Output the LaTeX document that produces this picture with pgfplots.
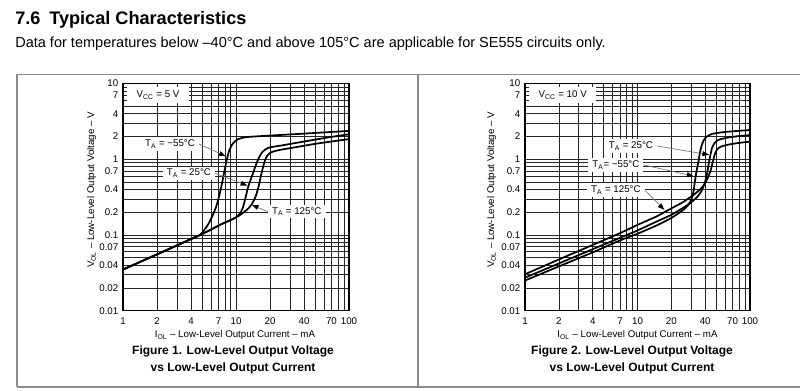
\documentclass[border=0pt]{standalone}
\usepackage{fontspec}
\setmainfont{Liberation Sans}
\usepackage{pgfplots}
\pgfplotsset{compat=1.18}
\usetikzlibrary{arrows.meta}
\tikzset{
  lab/.style={fill=white, inner xsep=3pt, inner ysep=2pt, font=\fontsize{7.3}{8}\selectfont},
  arr/.style={black!55, line width=0.5pt, -{Triangle[length=5pt,width=3.6pt,color=black]}},
  crv/.style={black, line width=1.3pt, smooth, tension=0.35},
}
\begin{document}
\begin{tikzpicture}
\useasboundingbox (0,0) rectangle (600pt,292.5pt);
% ---------- Figure 1 ----------
\begin{axis}[
    scale only axis, width=169.5pt, height=170.3pt,
    at={(92.25pt,59.475pt)}, anchor=south west,
    xmode=log, ymode=log,
    xmin=1, xmax=100, ymin=0.01, ymax=10,
    xtick={1,2,4,7,10,20,40,70,100},
    xticklabels={1,2,4,7,10,20,40,70,100},
    minor xtick={3,5,6,8,9,30,50,60,80,90},
    ytick={0.01,0.02,0.04,0.07,0.1,0.2,0.4,0.7,1,2,4,7,10},
    yticklabels={0.01,0.02,0.04,0.07,0.1,0.2,0.4,0.7,1,2,4,7,10},
    minor ytick={0.03,0.05,0.06,0.08,0.09,0.3,0.5,0.6,0.8,0.9,3,5,6,8,9},
    grid=both,
    major grid style={black!85, line width=0.5pt},
    minor grid style={black!85, line width=0.5pt},
    major tick length=0pt, minor tick length=0pt,
    tick label style={font=\fontsize{7.3}{8}\selectfont},
    xticklabel style={yshift=-1.5pt},
    axis line style={black, line width=0.8pt},
]
\addplot[crv] coordinates {(1,0.035) (2,0.0555) (3,0.0728) (4,0.0885) (4.8,0.1) (5.2,0.115) (5.7,0.14) (6.2,0.18) (6.7,0.24) (7.1,0.33) (7.5,0.47) (7.9,0.7) (8.3,1.0) (8.7,1.3) (9.2,1.55) (9.8,1.73) (10.5,1.85) (11.5,1.93) (13,1.98) (20,2.06) (35,2.16) (50,2.23) (70,2.3) (100,2.37)};
\addplot[crv] coordinates {(1,0.035) (2,0.0555) (3,0.0728) (4,0.0885) (4.8,0.1) (6,0.118) (7.5,0.14) (9,0.158) (10,0.172) (10.8,0.19) (11.5,0.23) (12.2,0.32) (12.8,0.43) (14,0.63) (15.2,0.89) (16.2,1.1) (17.2,1.26) (18.5,1.37) (20,1.44) (25,1.52) (35,1.66) (50,1.82) (70,1.98) (100,2.14)};
\addplot[crv] coordinates {(1,0.035) (2,0.0555) (3,0.0728) (4,0.0885) (4.8,0.1) (6,0.118) (7.5,0.14) (9,0.158) (10,0.17) (11,0.186) (12,0.205) (13,0.228) (14,0.265) (15,0.33) (15.8,0.43) (16.6,0.6) (17.4,0.8) (18.1,0.98) (18.8,1.1) (19.8,1.2) (21.4,1.27) (25,1.34) (35,1.46) (50,1.6) (70,1.72) (100,1.85)};
\node[lab, anchor=west, inner xsep=7pt, inner ysep=2.8pt] at (rel axis cs:0.018,0.95) {V\textsubscript{CC} = 5 V};
\node[lab] (a1) at (rel axis cs:0.208,0.734) {T\textsubscript{A} = −55°C};
\draw[arr] (a1.east) -- (axis cs:8.1,1.1);
\node[lab] (a2) at (rel axis cs:0.292,0.605) {T\textsubscript{A} = 25°C};
\draw[arr] (a2.east) -- (axis cs:12.6,0.45);
\node[lab] (a3) at (rel axis cs:0.769,0.436) {T\textsubscript{A} = 125°C};
\draw[arr] (a3.west) -- (axis cs:13.8,0.25);
\end{axis}
% ---------- Figure 2 ----------
\begin{axis}[
    scale only axis, width=168.75pt, height=170.3pt,
    at={(393.75pt,59.475pt)}, anchor=south west,
    xmode=log, ymode=log,
    xmin=1, xmax=100, ymin=0.01, ymax=10,
    xtick={1,2,4,7,10,20,40,70,100},
    xticklabels={1,2,4,7,10,20,40,70,100},
    minor xtick={3,5,6,8,9,30,50,60,80,90},
    ytick={0.01,0.02,0.04,0.07,0.1,0.2,0.4,0.7,1,2,4,7,10},
    yticklabels={0.01,0.02,0.04,0.07,0.1,0.2,0.4,0.7,1,2,4,7,10},
    minor ytick={0.03,0.05,0.06,0.08,0.09,0.3,0.5,0.6,0.8,0.9,3,5,6,8,9},
    grid=both,
    major grid style={black!85, line width=0.5pt},
    minor grid style={black!85, line width=0.5pt},
    major tick length=0pt, minor tick length=0pt,
    tick label style={font=\fontsize{7.3}{8}\selectfont},
    xticklabel style={yshift=-1.5pt},
    axis line style={black, line width=0.8pt},
]
\addplot[crv] coordinates {(1,0.025) (2,0.0385) (4,0.059) (7,0.085) (10,0.104) (15,0.135) (20,0.168) (25,0.21) (28,0.245) (30,0.29) (31.3,0.36) (32.3,0.5) (33.5,0.7) (34.8,0.93) (35.8,1.2) (36.8,1.45) (38.3,1.72) (40.5,1.95) (46,2.17) (60,2.3) (80,2.38) (100,2.44)};
\addplot[crv] coordinates {(1,0.0273) (2,0.0421) (4,0.065) (7,0.092) (10,0.115) (15,0.152) (20,0.185) (25,0.225) (30,0.27) (34,0.32) (37,0.38) (39.5,0.48) (41.5,0.65) (43,0.88) (44.5,1.15) (46,1.42) (48.5,1.65) (53,1.82) (65,1.95) (80,2.03) (100,2.09)};
\addplot[crv] coordinates {(1,0.0303) (2,0.0475) (4,0.074) (7,0.106) (10,0.136) (15,0.178) (20,0.225) (25,0.268) (28,0.3) (32,0.345) (36,0.4) (39.5,0.47) (42,0.56) (44.5,0.7) (46.5,0.9) (48.5,1.15) (51,1.35) (55,1.47) (65,1.57) (80,1.65) (100,1.71)};
\node[lab, anchor=west, inner xsep=7pt, inner ysep=2.8pt] at (rel axis cs:0.018,0.95) {V\textsubscript{CC} = 10 V};
\node[lab] (b1) at (rel axis cs:0.471,0.725) {T\textsubscript{A} = 25°C};
\draw[arr] (b1.east) -- (axis cs:43.3,1.15);
\node[lab] (b2) at (rel axis cs:0.404,0.642) {T\textsubscript{A}= −55°C};
\draw[arr] (b2.east) -- (axis cs:31.5,0.6);
\node[lab] (b3) at (rel axis cs:0.404,0.531) {T\textsubscript{A} = 125°C};
\draw[arr] (b3.east) -- (axis cs:17.3,0.215);
\end{axis}
% ---------- page text and frame ----------
\begin{scope}[x=0.75pt, y=-0.75pt, yshift=292.5pt]
\node[anchor=base west, inner sep=0pt, font=\bfseries\fontsize{13.6}{15}\selectfont] at (15,25) {7.6};
\node[anchor=base west, inner sep=0pt, font=\bfseries\fontsize{13.6}{15}\selectfont] at (49,25) {Typical Characteristics};
\node[anchor=base west, inner sep=0pt, font=\fontsize{10.9}{12}\selectfont] at (15,48) {Data for temperatures below –40°C and above 105°C are applicable for SE555 circuits only.};
\draw[black!45, line width=1pt] (17,387) -- (17,74.3) -- (800,74.3);
\draw[black!45, line width=1pt] (17,387) -- (800,387);
\draw[black!45, line width=1pt] (418,74.3) -- (418,387);
\node[rotate=90, font=\fontsize{7.3}{8}\selectfont] at (91.7,190) {V\textsubscript{OL} – Low-Level Output Voltage – V};
\node[rotate=90, font=\fontsize{7.3}{8}\selectfont] at (491.7,190) {V\textsubscript{OL} – Low-Level Output Voltage – V};
\node[font=\fontsize{7.3}{8}\selectfont] at (235,335) {I\textsubscript{OL} – Low-Level Output Current – mA};
\node[font=\fontsize{7.3}{8}\selectfont] at (637.5,335) {I\textsubscript{OL} – Low-Level Output Current – mA};
\node[align=center, font=\bfseries\fontsize{9}{12.75}\selectfont] at (233,360) {Figure 1. Low-Level Output Voltage\\vs Low-Level Output Current};
\node[align=center, font=\bfseries\fontsize{9}{12.75}\selectfont] at (632,360) {Figure 2. Low-Level Output Voltage\\vs Low-Level Output Current};
\end{scope}
\end{tikzpicture}
\end{document}
